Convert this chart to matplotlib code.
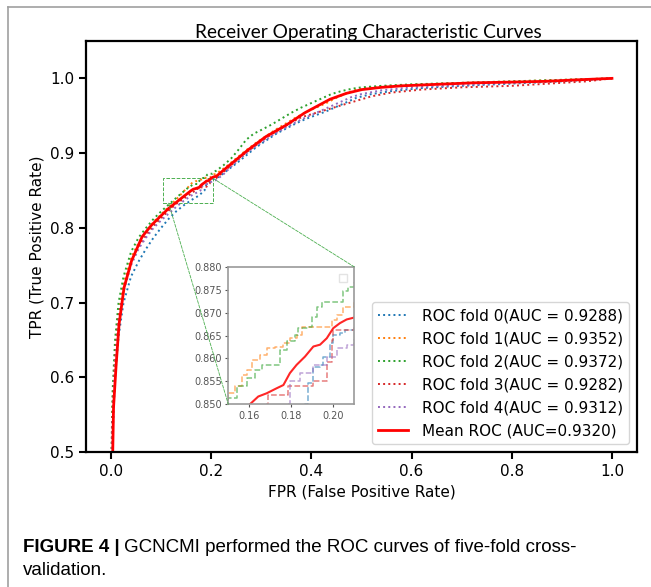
import numpy as np
import matplotlib
matplotlib.use("Agg")
import matplotlib.pyplot as plt
from matplotlib.lines import Line2D
from matplotlib.patches import Rectangle, ConnectionPatch

# ---- data ----
fpr0 = [0.0, 0.0, 0.003, 0.008, 0.015, 0.025, 0.04, 0.055, 0.07, 0.085, 0.1, 0.115, 0.13, 0.145, 0.16, 0.175,
        0.1866, 0.1882, 0.1906, 0.1938, 0.1954, 0.1985, 0.2001, 0.2033, 0.2057, 0.215, 0.23, 0.25, 0.27, 0.29,
        0.31, 0.33, 0.35, 0.37, 0.39, 0.41, 0.43, 0.45, 0.47, 0.49, 0.52, 0.56, 0.62, 0.7, 0.8, 0.9, 1.0]
tpr0 = [0.0, 0.42, 0.52, 0.6, 0.655, 0.7, 0.735, 0.755, 0.772, 0.787, 0.8, 0.812, 0.822, 0.83, 0.837, 0.843,
        0.85, 0.8546, 0.8582, 0.8586, 0.8604, 0.8633, 0.8651, 0.8655, 0.8662, 0.868, 0.876, 0.886, 0.897, 0.908,
        0.917, 0.926, 0.933, 0.94, 0.946, 0.951, 0.956, 0.962, 0.968, 0.974, 0.979, 0.983, 0.987, 0.99, 0.993, 0.996, 1.0]

fpr1 = [0.0, 0.0, 0.003, 0.008, 0.015, 0.025, 0.04, 0.055, 0.07, 0.085, 0.1, 0.115, 0.13, 0.14, 0.15, 0.1532,
        0.1564, 0.1588, 0.1611, 0.1651, 0.1683, 0.1723, 0.1763, 0.1794, 0.1826, 0.185, 0.197, 0.1993, 0.2017,
        0.2049, 0.21, 0.23, 0.25, 0.27, 0.29, 0.31, 0.33, 0.35, 0.37, 0.39, 0.41, 0.43, 0.45, 0.47, 0.49, 0.52,
        0.56, 0.62, 0.7, 0.8, 0.9, 1.0]
tpr1 = [0.0, 0.45, 0.56, 0.63, 0.685, 0.725, 0.76, 0.78, 0.795, 0.808, 0.818, 0.828, 0.838, 0.845, 0.8524, 0.8539,
        0.8564, 0.8575, 0.8597, 0.8608, 0.8622, 0.8626, 0.8633, 0.8644, 0.8651, 0.8669, 0.8669, 0.8684, 0.8695,
        0.8713, 0.8724, 0.882, 0.893, 0.904, 0.914, 0.923, 0.932, 0.94, 0.948, 0.955, 0.961, 0.967, 0.974, 0.98,
        0.985, 0.988, 0.99, 0.992, 0.994, 0.996, 0.998, 1.0]

fpr2 = [0.0, 0.0, 0.003, 0.008, 0.015, 0.025, 0.04, 0.055, 0.07, 0.085, 0.1, 0.115, 0.13, 0.14, 0.15, 0.154,
        0.1588, 0.1627, 0.1659, 0.1731, 0.1747, 0.1779, 0.1818, 0.1834, 0.1882, 0.1898, 0.1922, 0.1946, 0.2025,
        0.2049, 0.2073, 0.21, 0.225, 0.24, 0.255, 0.27, 0.285, 0.3, 0.32, 0.34, 0.36, 0.38, 0.4, 0.42, 0.44, 0.46,
        0.48, 0.5, 0.54, 0.6, 0.7, 0.8, 0.9, 1.0]
tpr2 = [0.0, 0.47, 0.58, 0.65, 0.70, 0.735, 0.768, 0.787, 0.80, 0.812, 0.822, 0.831, 0.84, 0.846, 0.8513, 0.8539,
        0.8557, 0.8575, 0.8586, 0.8586, 0.8618, 0.8637, 0.8651, 0.8666, 0.8669, 0.8691, 0.8713, 0.8724, 0.8724,
        0.8746, 0.8756, 0.8764, 0.884, 0.893, 0.905, 0.918, 0.926, 0.931, 0.938, 0.946, 0.954, 0.961, 0.967,
        0.973, 0.979, 0.983, 0.986, 0.988, 0.99, 0.992, 0.994, 0.996, 0.998, 1.0]

fpr3 = [0.0, 0.0, 0.003, 0.008, 0.015, 0.025, 0.04, 0.055, 0.07, 0.085, 0.1, 0.115, 0.13, 0.145, 0.158, 0.1683,
        0.1691, 0.1779, 0.1787, 0.1906, 0.197, 0.1993, 0.2001, 0.21, 0.225, 0.24, 0.26, 0.28, 0.3, 0.32, 0.34,
        0.36, 0.38, 0.4, 0.42, 0.44, 0.46, 0.48, 0.5, 0.52, 0.56, 0.62, 0.7, 0.8, 0.9, 0.95, 1.0]
tpr3 = [0.0, 0.44, 0.55, 0.625, 0.68, 0.72, 0.755, 0.775, 0.79, 0.803, 0.813, 0.823, 0.832, 0.839, 0.845, 0.85,
        0.852, 0.852, 0.8539, 0.855, 0.8593, 0.864, 0.8662, 0.8666, 0.875, 0.884, 0.896, 0.906, 0.916, 0.925,
        0.933, 0.941, 0.948, 0.952, 0.956, 0.96, 0.964, 0.968, 0.972, 0.976, 0.981, 0.985, 0.988, 0.99, 0.994,
        0.996, 1.0]

fpr4 = [0.0, 0.0, 0.003, 0.008, 0.015, 0.025, 0.04, 0.055, 0.07, 0.085, 0.1, 0.115, 0.13, 0.145, 0.16, 0.1787,
        0.1795, 0.1842, 0.1906, 0.1954, 0.197, 0.2017, 0.2065, 0.21, 0.225, 0.24, 0.26, 0.28, 0.3, 0.32, 0.34,
        0.36, 0.38, 0.4, 0.42, 0.44, 0.46, 0.48, 0.5, 0.54, 0.6, 0.7, 0.8, 0.9, 1.0]
tpr4 = [0.0, 0.43, 0.54, 0.615, 0.672, 0.715, 0.75, 0.772, 0.787, 0.8, 0.81, 0.819, 0.828, 0.836, 0.843, 0.85,
        0.855, 0.8568, 0.8586, 0.8586, 0.8604, 0.8622, 0.863, 0.864, 0.872, 0.882, 0.894, 0.905, 0.914, 0.923,
        0.931, 0.938, 0.945, 0.951, 0.957, 0.963, 0.969, 0.975, 0.979, 0.984, 0.988, 0.991, 0.994, 0.997, 1.0]

mean_fpr = [0.0, 0.002, 0.005, 0.01, 0.016, 0.026, 0.041, 0.062, 0.08, 0.098, 0.115, 0.13, 0.145, 0.1603, 0.1643,
            0.1683, 0.1731, 0.1763, 0.1794, 0.1826, 0.1866, 0.1906, 0.1938, 0.197, 0.2001, 0.2033, 0.2065, 0.21,
            0.237, 0.273, 0.309, 0.351, 0.387, 0.437, 0.47, 0.501, 0.54, 0.58, 0.65, 0.723, 0.8, 0.866, 0.93, 1.0]
mean_tpr = [0.0, 0.45, 0.56, 0.615, 0.671, 0.72, 0.756, 0.788, 0.803, 0.815, 0.826, 0.834, 0.842, 0.85, 0.8517,
            0.8524, 0.8535, 0.8542, 0.8568, 0.8586, 0.8604, 0.8626, 0.863, 0.8644, 0.8666, 0.8677, 0.8685, 0.8689,
            0.884, 0.904, 0.922, 0.938, 0.954, 0.972, 0.98, 0.985, 0.988, 0.99, 0.992, 0.994, 0.995, 0.996, 0.998, 1.0]

aucs = [0.9288, 0.9352, 0.9372, 0.9282, 0.9312]
mean_auc = 0.9320
folds = [(fpr0, tpr0), (fpr1, tpr1), (fpr2, tpr2), (fpr3, tpr3), (fpr4, tpr4)]
colors = ['C0', 'C1', 'C2', 'C3', 'C4']

plt.rcParams['font.family'] = 'DejaVu Sans'
fig = plt.figure(figsize=(6.51, 5.87), dpi=100)
W, H = 651, 587

ax = fig.add_axes([86 / W, 1 - 452 / H, (637 - 86) / W, (452 - 41) / H])
for i, (f, t) in enumerate(folds):
    ax.plot(f, t, ':', color=colors[i], lw=1.4, label='ROC fold %d(AUC = %.4f)' % (i, aucs[i]))
ax.plot(mean_fpr, mean_tpr, color='red', lw=2, label='Mean ROC (AUC=%.4f)' % mean_auc)
ax.set_xlim(-0.05, 1.05)
ax.set_ylim(0.5, 1.05)
ax.set_xticks([0.0, 0.2, 0.4, 0.6, 0.8, 1.0])
ax.set_yticks([0.5, 0.6, 0.7, 0.8, 0.9, 1.0])
ax.tick_params(labelsize=11, width=1.5, length=5)
for s in ax.spines.values():
    s.set_linewidth(1.6)
ax.set_xlabel('FPR (False Positive Rate)', fontsize=11, labelpad=4)
ax.set_ylabel('TPR (True Positive Rate)', fontsize=11, labelpad=4)
ax.set_title('Receiver Operating Characteristic Curves', fontsize=13.8, family='Lato', pad=2, x=0.513)
ax.legend(loc='lower right', fontsize=11, labelspacing=0.52, handlelength=2.0, handletextpad=0.9)

# zoom box on the main axes
ax.add_patch(Rectangle((0.103, 0.833), 0.101, 0.033, fill=False, ls='--', lw=0.7, ec='#4caf50'))

# inset
axin = fig.add_axes([228.3 / W, 1 - 404.3 / H, (354 - 228.3) / W, (404.3 - 266.7) / H])
for i, (f, t) in enumerate(folds):
    axin.plot(f, t, '--', color=colors[i], lw=1.1, alpha=0.6, drawstyle='steps-post')
axin.plot(mean_fpr, mean_tpr, color='red', lw=1.5, alpha=0.85)
axin.set_xlim(0.15, 0.21)
axin.set_ylim(0.85, 0.88)
axin.set_xticks([0.16, 0.18, 0.20])
axin.set_yticks([0.850, 0.855, 0.860, 0.865, 0.870, 0.875, 0.880])
axin.set_yticklabels(['0.850', '0.855', '0.860', '0.865', '0.870', '0.875', '0.880'])
axin.set_xticklabels(['0.16', '0.18', '0.20'])
axin.tick_params(labelsize=7, colors='#555555', length=2.5, width=0.8, pad=2)
for s in axin.spines.values():
    s.set_color('#999999')
    s.set_linewidth(1.2)
axin.legend(handles=[], loc='upper right', borderpad=0.3, fancybox=False, edgecolor='#dddddd')

# connector lines
for xa, ya, xb, yb in [(0.115, 0.833, 0.15, 0.85), (0.204, 0.866, 0.21, 0.88)]:
    cp = ConnectionPatch(xyA=(xa, ya), coordsA=ax.transData, xyB=(xb, yb), coordsB=axin.transData,
                         ls='--', lw=0.6, color='#4caf50')
    fig.add_artist(cp)

# page frame
fig.add_artist(Line2D([8 / W, 8 / W], [0, 1 - 7 / H], transform=fig.transFigure, color='#a0a0a0', lw=1.2))
fig.add_artist(Line2D([8 / W, 1], [1 - 7 / H, 1 - 7 / H], transform=fig.transFigure, color='#a0a0a0', lw=1.2))

# caption
t1 = fig.text(23 / W, 1 - 552 / H, 'FIGURE 4 |', family='Liberation Sans', weight='bold', fontsize=13.5)
fig.canvas.draw()
bb = t1.get_window_extent()
fig.text((bb.x1 + 4) / W, 1 - 552 / H, 'GCNCMI performed the ROC curves of five-fold cross-',
         family='Liberation Sans', fontsize=13.5)
fig.text(23 / W, 1 - 575 / H, 'validation.', family='Liberation Sans', fontsize=13.5)

fig.savefig('out.png', dpi=100)
